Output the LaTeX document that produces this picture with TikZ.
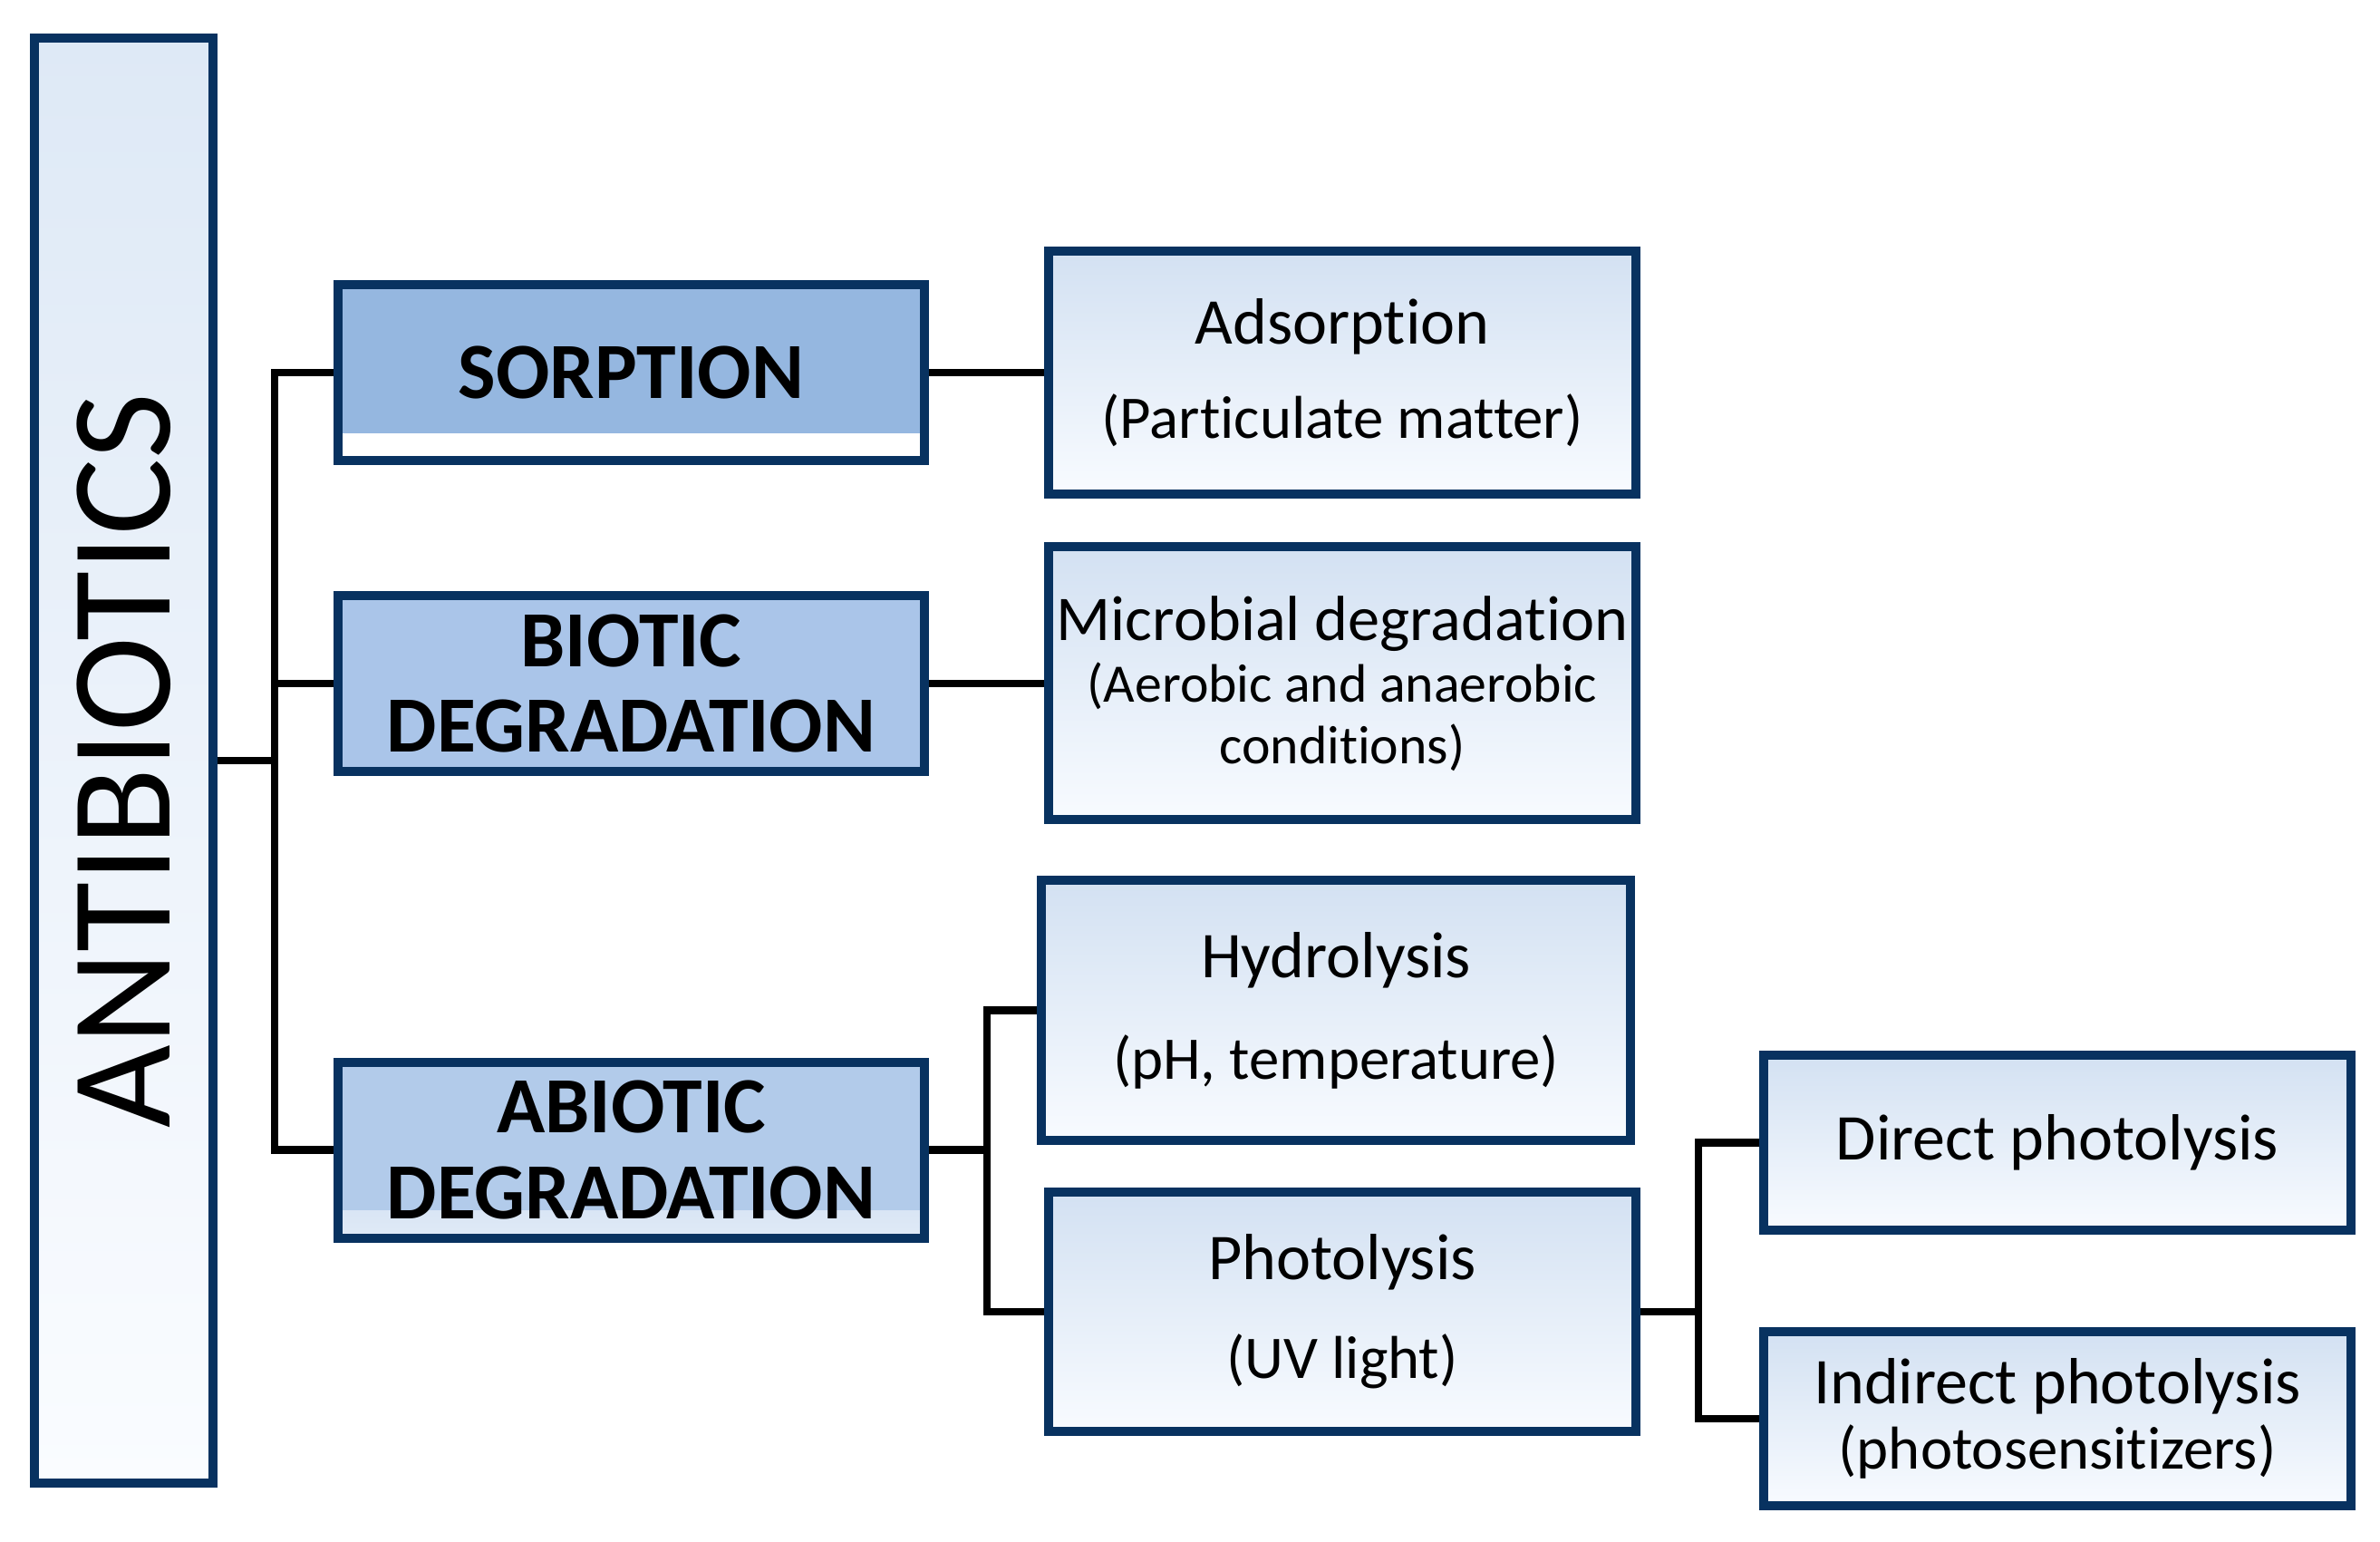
\documentclass[tikz,border=0pt]{standalone}
\usepackage{fontspec}
\usepackage{graphicx}
\setmainfont{Carlito}[Ligatures=NoCommon]

% Colours
\definecolor{boxline}{RGB}{8,50,96}
\definecolor{antitop}{RGB}{222,233,246}
\definecolor{antibot}{RGB}{250,252,255}
\definecolor{sorpfill}{RGB}{149,183,224}
\definecolor{biotfill}{RGB}{170,197,233}
\definecolor{abiofill}{RGB}{178,203,234}
\definecolor{leaftop}{RGB}{211,225,242}
\definecolor{leafbot}{RGB}{248,251,255}

\newcommand{\subline}[1]{{\fontsize{19}{19}\selectfont #1}}
\newcommand{\smallline}[1]{{\fontsize{17}{17}\selectfont #1}}

\begin{document}
\begin{tikzpicture}[
  box/.style={draw=boxline, line width=0.1cm, rectangle, inner sep=0pt, align=center},
  branch/.style={box, minimum width=6.47cm, minimum height=1.94cm,
    font=\fontsize{25}{27}\selectfont\bfseries},
  leaf/.style={box, top color=leaftop, bottom color=leafbot, minimum width=6.48cm},
  link/.style={line width=0.085cm, black}
]
\useasboundingbox (0,0) rectangle (26.26,-17.01);

% Trunk positions of the elbow connectors
\coordinate (j1) at (3.03,0);
\coordinate (j2) at (10.89,0);
\coordinate (j3) at (18.74,0);

% Root
\node[box, top color=antitop, bottom color=antibot, minimum width=1.97cm,
  minimum height=15.94cm] (anti) at (1.365,-8.39)
  {\rotatebox{90}{\fontsize{45}{50}\selectfont ANTIBIOTICS}};

% Processes
\node[branch, fill=sorpfill, path picture={
    \fill[white] (path picture bounding box.south west) rectangle
      ([yshift=0.3cm]path picture bounding box.south east);}]
  (sorp) at (6.965,-4.11) {SORPTION};
\node[branch, fill=biotfill] (biot) at (6.965,-7.54) {BIOTIC\\DEGRADATION};
\node[branch, fill=abiofill, path picture={
    \shade[top color=abiofill, bottom color=abiofill!40!white]
      (path picture bounding box.south west) rectangle
      ([yshift=0.3cm]path picture bounding box.south east);}]
  (abio) at (6.965,-12.685) {ABIOTIC\\DEGRADATION};

% Mechanisms
\node[leaf, minimum height=2.68cm, font=\fontsize{20.5}{29.5}\selectfont]
  (adso) at (14.81,-4.11) {Adsorption\\\subline{(Particulate matter)}};
\node[leaf, minimum height=3.01cm, font=\fontsize{20}{19.3}\selectfont]
  (micr) at (14.81,-7.54) {Microbial degradation\\\smallline{(Aerobic and anaerobic}\\\smallline{conditions)}};
\node[leaf, minimum width=6.50cm, minimum height=2.87cm, font=\fontsize{20.5}{31.8}\selectfont]
  (hydr) at (14.74,-11.145) {Hydrolysis\\\subline{(pH, temperature)}};
\node[leaf, minimum height=2.64cm, font=\fontsize{20.5}{31}\selectfont]
  (phot) at (14.81,-14.47) {Photolysis\\\subline{(UV light)}};
\node[leaf, minimum height=1.93cm, font=\fontsize{20.5}{24}\selectfont]
  (dire) at (22.70,-12.605) {Direct photolysis};
\node[leaf, minimum height=1.92cm, font=\fontsize{20.5}{20.5}\selectfont]
  (indi) at (22.70,-15.65) {Indirect photolysis\\\subline{(photosensitizers)}};

% Connectors
\draw[link] (anti.east) -- (anti.east -| j1);
\draw[link] (sorp.west) -- (sorp.west -| j1) -- (abio.west -| j1) -- (abio.west);
\draw[link] (biot.west) -- (biot.west -| j1);
\draw[link] (sorp.east) -- (adso.west);
\draw[link] (biot.east) -- (micr.west);
\draw[link] (abio.east) -- (abio.east -| j2);
\draw[link] (hydr.west) -- (hydr.west -| j2) -- (phot.west -| j2) -- (phot.west);
\draw[link] (phot.east) -- (phot.east -| j3);
\draw[link] (dire.west) -- (dire.west -| j3) -- (indi.west -| j3) -- (indi.west);

\end{tikzpicture}
\end{document}
